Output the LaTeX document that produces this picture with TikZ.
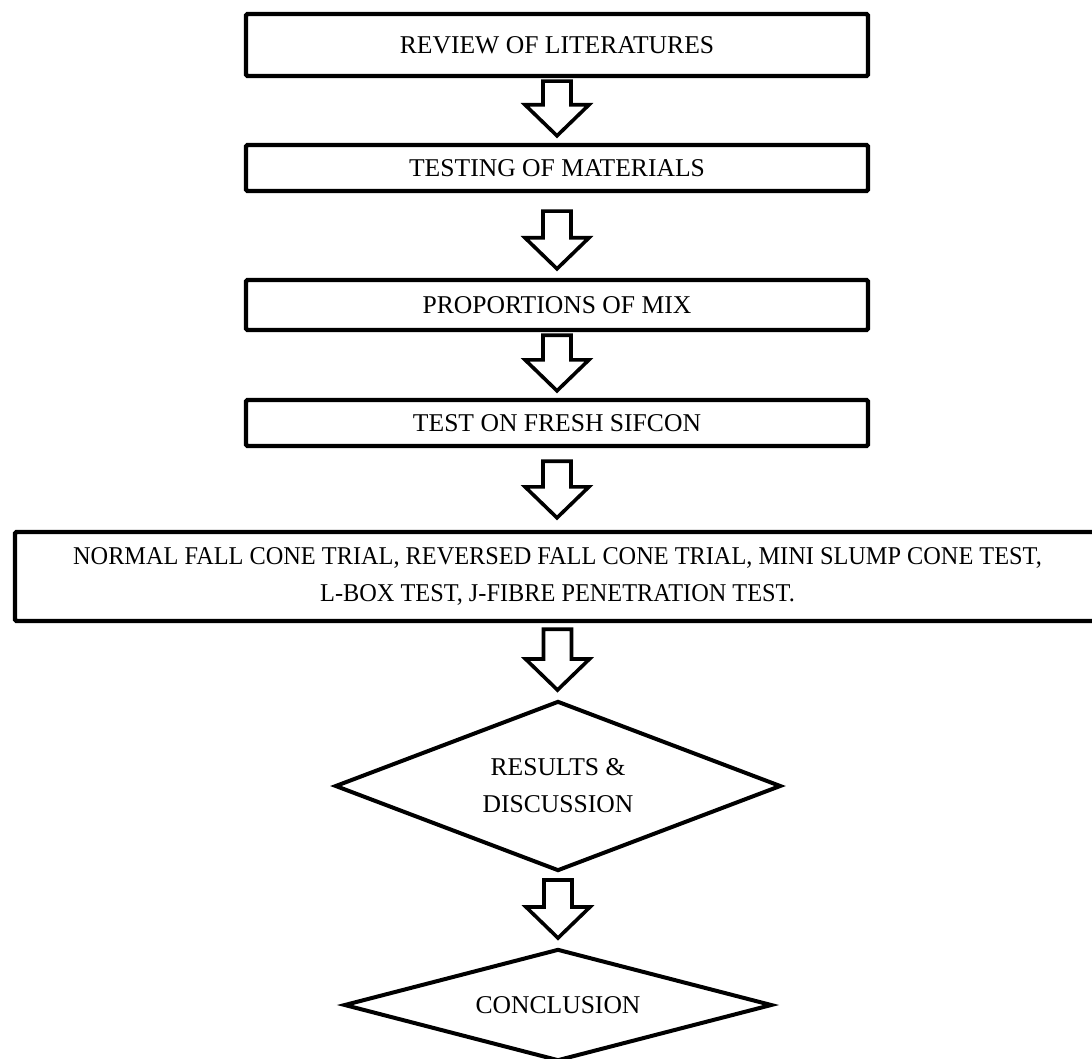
\documentclass[tikz,border=0pt]{standalone}
\usepackage{fontspec}
\setmainfont{Liberation Serif}
\usetikzlibrary{shapes.geometric,calc}
\tikzset{
  txt/.style={font=\fontsize{12.8}{18.5}\selectfont, align=center},
  stepbox/.style={draw, line width=2.2pt, rounded corners=0.8pt, minimum width=311pt, inner sep=0pt, txt},
  decision/.style={diamond, aspect=3, draw, line width=2pt, inner sep=0pt, txt},
  barrow/.style={draw, line width=1.8pt, fill=white, line join=miter},
}
\newcommand\blockarr[4]{%
  \path let \p1=($(#1.south)+(0,#3)$), \p2=($(#2.north)+(0,-#4)$) in
  [barrow] (\x1-7pt,\y1) -- (\x1-7pt,\y2+15.5pt) -- (\x1-16pt,\y2+15.5pt) -- (\x1,\y2)
  -- (\x1+16pt,\y2+15.5pt) -- (\x1+7pt,\y2+15.5pt) -- (\x1+7pt,\y1) -- cycle;}
\begin{document}
\begin{tikzpicture}[x=0.5pt,y=-0.5pt]
\useasboundingbox (0,0) rectangle (1092,1059);
\clip (0,0) rectangle (1092,1059);
\node[stepbox, minimum height=31pt] (b1) at (557,45) {REVIEW OF LITERATURES};
\node[stepbox, minimum height=23pt] (b2) at (557,168) {TESTING OF MATERIALS};
\node[stepbox, minimum height=25pt] (b3) at (557,305) {PROPORTIONS OF MIX};
\node[stepbox, minimum height=23pt] (b4) at (557,423) {TEST ON FRESH SIFCON};
\node[stepbox, minimum height=44.5pt, minimum width=542.5pt,
      font=\fontsize{12.8}{18.5}\selectfont\addfontfeatures{FakeStretch=0.95}] (b5) at (557.5,576.5)
  {NORMAL FALL CONE TRIAL, REVERSED FALL CONE TRIAL, MINI SLUMP CONE TEST,\\ L-BOX TEST, J-FIBRE PENETRATION TEST.};
\node[decision, minimum width=223pt, minimum height=85pt] (d1) at (558,786) {RESULTS \&\\ DISCUSSION};
\node[decision, minimum width=214pt, minimum height=56pt] (d2) at (558,1005) {CONCLUSION};
\blockarr{b1}{b2}{3}{7}
\blockarr{b2}{b3}{18}{9}
\blockarr{b3}{b4}{3}{7}
\blockarr{b4}{b5}{13}{12}
\blockarr{b5}{d1}{6}{9}
\blockarr{d1}{d2}{7}{9}
\end{tikzpicture}
\end{document}
